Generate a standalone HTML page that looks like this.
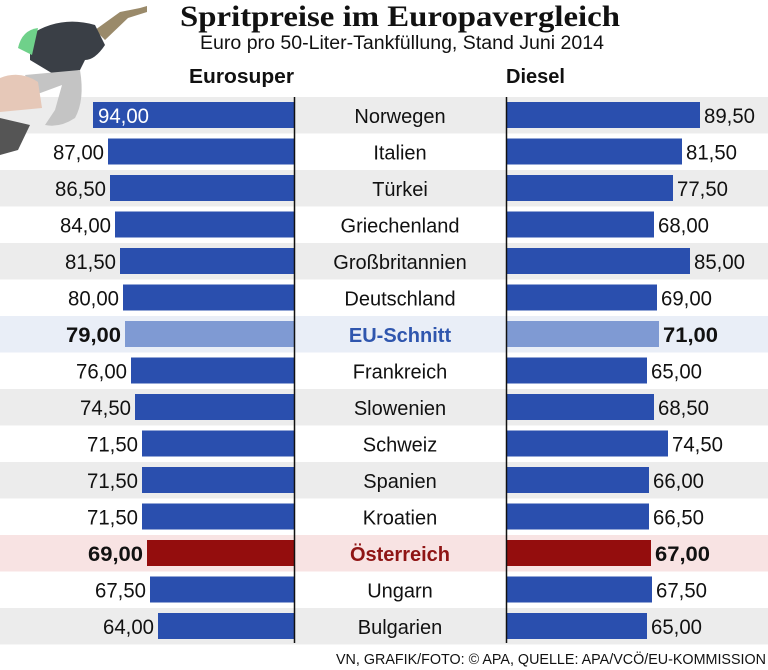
<!DOCTYPE html>
<html><head><meta charset="utf-8"><style>
html,body{margin:0;padding:0;background:#fff;}
svg{display:block;}
text{font-family:"Liberation Sans Narrow","Liberation Sans",sans-serif;}
</style></head><body>
<svg width="768" height="670" viewBox="0 0 768 670" xmlns="http://www.w3.org/2000/svg">
<rect width="768" height="670" fill="#fff"/>
<g id="rows"></g>
<!-- pump -->
<g>
<path d="M95 30 L120 12 L140 8 L147 6 L147 12 L128 18 L105 40 Z" fill="#9a8a6a"/>
<path d="M30 35 Q60 15 95 25 L105 45 Q95 60 85 60 L80 70 L55 75 L30 60 Z" fill="#3a3f46"/>
<path d="M18 48 Q22 30 38 28 L32 55 Z" fill="#6fd18a"/>
<path d="M25 75 L80 70 Q85 100 75 118 Q60 128 45 125 L55 110 L62 85 L35 95 Z" fill="#c4c4c4"/>
<path d="M0 78 Q20 70 38 82 L42 108 L0 112 Z" fill="#e6c8b8"/>
<path d="M0 118 L30 125 L18 150 L0 155 Z" fill="#555"/>
</g>
<text x="400" y="26" text-anchor="middle" font-weight="bold" font-size="30" fill="#111" style="font-family:'Liberation Serif',serif" textLength="440" lengthAdjust="spacingAndGlyphs">Spritpreise im Europavergleich</text>
<text x="402" y="49" text-anchor="middle" font-size="19" fill="#111" textLength="404" lengthAdjust="spacingAndGlyphs">Euro pro 50-Liter-Tankfüllung, Stand Juni 2014</text>
<text x="294" y="83" text-anchor="end" font-size="20" font-weight="bold" fill="#111" textLength="105" lengthAdjust="spacingAndGlyphs">Eurosuper</text>
<text x="506" y="83" font-size="20" font-weight="bold" fill="#111" textLength="59" lengthAdjust="spacingAndGlyphs">Diesel</text>
<g id="bars"></g>
<line x1="294.5" y1="97" x2="294.5" y2="643" stroke="#111" stroke-width="1.5"/>
<line x1="506.5" y1="97" x2="506.5" y2="643" stroke="#111" stroke-width="1.5"/>
<text x="766" y="664" text-anchor="end" font-size="15" fill="#111" textLength="430" lengthAdjust="spacingAndGlyphs">VN, GRAFIK/FOTO: © APA, QUELLE: APA/VCÖ/EU-KOMMISSION</text>
</svg>
<script>
var d=[["Norwegen","94,00","89,50",93,700],["Italien","87,00","81,50",108,682],["Türkei","86,50","77,50",110,673],["Griechenland","84,00","68,00",115,654],["Großbritannien","81,50","85,00",120,690],["Deutschland","80,00","69,00",123,657],["EU-Schnitt","79,00","71,00",125,659],["Frankreich","76,00","65,00",131,647],["Slowenien","74,50","68,50",135,654],["Schweiz","71,50","74,50",142,668],["Spanien","71,50","66,00",142,649],["Kroatien","71,50","66,50",142,649],["Österreich","69,00","67,00",147,651],["Ungarn","67,50","67,50",150,652],["Bulgarien","64,00","65,00",158,647]];
var ns="http://www.w3.org/2000/svg",R=document.getElementById("rows"),B=document.getElementById("bars");
function el(p,t,a,txt){var e=document.createElementNS(ns,t);for(var k in a)e.setAttribute(k,a[k]);if(txt)e.textContent=txt;p.appendChild(e);return e;}
d.forEach(function(r,i){
 var y=97+i*36.5,bg=null,bar="#2a4fae",tc="#111",nc="#111",fw="normal";
 if(i%2==0)bg="#ececec";
 if(i==6){bg="#e9eef7";bar="#7f9ad3";nc="#2f56ae";fw="bold";}
 if(i==12){bg="#f8e3e3";bar="#940d0d";nc="#8f1515";fw="bold";}
 if(bg)el(R,"rect",{x:0,y:y,width:768,height:36.5,fill:bg});
 el(B,"rect",{x:r[3],y:y+5,width:294-r[3],height:26,fill:bar});
 el(B,"rect",{x:506,y:y+5,width:r[4]-506,height:26,fill:bar});
 var by=y+26, tl=(fw=="bold"?55:51);
 var base={"font-size":21,"font-weight":fw,textLength:tl,lengthAdjust:"spacingAndGlyphs"};
 function m(o){var c={};for(var k in base)c[k]=base[k];for(var k in o)c[k]=o[k];return c;}
 if(i==0)el(B,"text",m({x:r[3]+5,y:by,fill:"#fff"}),r[1]);
 else el(B,"text",m({x:r[3]-4-tl,y:by,fill:tc}),r[1]);
 el(B,"text",m({x:r[4]+4,y:by,fill:tc}),r[2]);
 el(B,"text",{x:400,y:by,"text-anchor":"middle","font-size":20,fill:nc,"font-weight":fw},r[0]);
});
</script>
</body></html>
